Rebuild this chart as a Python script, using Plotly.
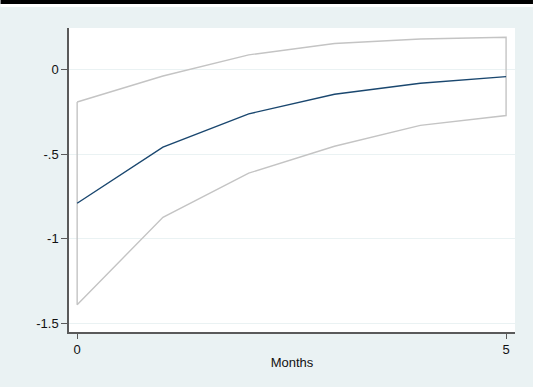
import plotly.graph_objects as go

months = [0, 1, 2, 3, 4, 5]
irf = [-0.789, -0.457, -0.26, -0.144, -0.079, -0.04]
upper = [-0.19, -0.036, 0.089, 0.156, 0.183, 0.193]
lower = [-1.39, -0.872, -0.611, -0.452, -0.328, -0.27]
y_tick_vals = [0, -0.5, -1, -1.5]
y_tick_text = ["0", "-.5", "-1", "-1.5"]
x_tick_vals = [0, 5]
x_tick_text = ["0", "5"]

W, H = 533, 387
L, R, T, B = 68.5, 18, 28, 55
ph = H - T - B
pw = W - L - R

band_x = months + months[::-1] + [months[0]]
band_y = upper + lower[::-1] + [upper[0]]

fig = go.Figure()
fig.add_trace(go.Scatter(x=band_x, y=band_y, mode="lines",
                         line=dict(color="#c4c4c4", width=1.4), showlegend=False, hoverinfo="skip"))
fig.add_trace(go.Scatter(x=months, y=irf, mode="lines",
                         line=dict(color="#1a476f", width=1.4), showlegend=False))

fig.update_layout(
    width=W, height=H,
    margin=dict(l=L, r=R, t=T, b=B, pad=0),
    paper_bgcolor="#eaf2f3",
    plot_bgcolor="white",
    font=dict(family="Liberation Sans, Arial", size=13, color="#111111"),
    showlegend=False,
    xaxis=dict(range=[-0.095, 5.104], tickvals=x_tick_vals, ticktext=x_tick_text,
               showgrid=False, zeroline=False, showline=True, linecolor="#5a5a5a", linewidth=1.5,
               ticks="outside", ticklen=5, tickcolor="#5a5a5a", tickwidth=1,
               title=dict(text="Months", standoff=2, font=dict(size=13))),
    yaxis=dict(range=[-1.551, 0.248], tickvals=y_tick_vals, ticktext=y_tick_text,
               showgrid=True, gridcolor="#eaf2f3", gridwidth=1, zeroline=False,
               showline=True, linecolor="#5a5a5a", linewidth=1.5,
               ticks="outside", ticklen=6, tickcolor="#5a5a5a", tickwidth=1),
    shapes=[
        dict(type="rect", xref="paper", yref="paper",
             x0=-L / pw, x1=(W - L) / pw, y0=1 + (T - 7) / ph, y1=1 + T / ph + 0.01,
             fillcolor="white", line=dict(width=0), layer="above"),
        dict(type="rect", xref="paper", yref="paper",
             x0=-L / pw, x1=(W - L) / pw, y0=1 + (T - 4) / ph, y1=1 + T / ph + 0.01,
             fillcolor="black", line=dict(width=0), layer="above"),
    ],
)

fig.write_html("out.html", config={"displayModeBar": False},
               post_script="document.body.style.margin='0';document.body.style.overflow='hidden';")
